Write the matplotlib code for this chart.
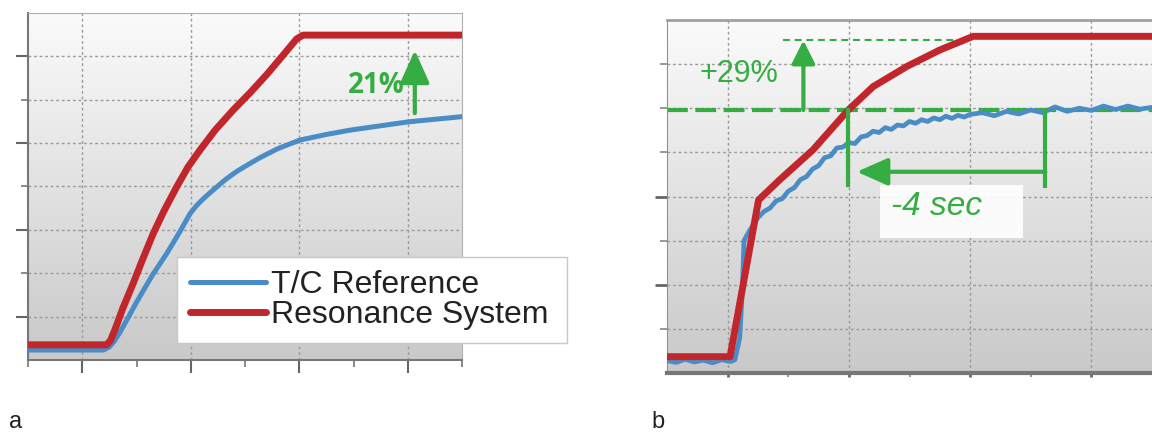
import matplotlib.pyplot as plt
import numpy as np
from matplotlib.colors import LinearSegmentedColormap
from matplotlib.patches import Rectangle

# ---- data (arbitrary units: x 0..8, y 0..8) ----
# panel a
a_tc_x = [0.0, 1.0, 1.39, 1.5, 1.6, 1.7, 1.82, 2.0, 2.13, 2.3, 2.56, 2.8, 2.99, 3.1, 3.2, 3.35, 3.48,
          3.65, 3.85, 4.09, 4.3, 4.6, 5.01, 5.5, 5.94, 6.5, 7.01, 7.5, 8.0]
a_tc_y = [0.23, 0.23, 0.23, 0.3, 0.45, 0.65, 0.92, 1.33, 1.61, 1.97, 2.46, 2.96, 3.38, 3.55, 3.68, 3.85,
          3.99, 4.17, 4.35, 4.53, 4.68, 4.87, 5.07, 5.2, 5.30, 5.40, 5.49, 5.55, 5.61]
a_rs_x = [0.0, 1.0, 1.45, 1.52, 1.6, 1.75, 1.94, 2.1, 2.31, 2.5, 2.74, 2.95, 3.17, 3.45, 3.78, 4.1,
          4.4, 4.65, 4.83, 4.95, 5.07, 8.0]
a_rs_y = [0.35, 0.35, 0.35, 0.45, 0.69, 1.2, 1.77, 2.28, 2.92, 3.42, 3.99, 4.45, 4.84, 5.3, 5.76, 6.17,
          6.58, 6.95, 7.22, 7.4, 7.49, 7.49]

# panel b
b_tc_x = [0.0, 0.15, 0.3, 0.45, 0.6, 0.75, 0.9, 1.05, 1.12, 1.2, 1.24, 1.27, 1.35, 1.42, 1.5, 1.6, 1.7,
          1.8, 1.9, 2.0, 2.1, 2.2, 2.3, 2.4, 2.5, 2.6, 2.7, 2.8, 2.9, 3.0, 3.1, 3.2, 3.3, 3.4, 3.5,
          3.6, 3.7, 3.8, 3.9, 4.0, 4.1, 4.2, 4.3, 4.4, 4.5, 4.6, 4.7, 4.8, 4.9, 5.0, 5.2, 5.4, 5.6,
          5.8, 6.0, 6.2, 6.4, 6.6, 6.8, 7.0, 7.2, 7.4, 7.6, 7.8, 8.0]
b_tc_y = [0.28, 0.24, 0.31, 0.25, 0.29, 0.23, 0.3, 0.26, 0.3, 0.8, 1.8, 3.0, 3.2, 3.35, 3.52, 3.66, 3.74,
          3.9, 3.95, 4.12, 4.2, 4.38, 4.45, 4.62, 4.7, 4.88, 4.92, 5.1, 5.12, 5.22, 5.2, 5.35, 5.38, 5.48, 5.45,
          5.56, 5.52, 5.62, 5.6, 5.7, 5.66, 5.74, 5.7, 5.78, 5.74, 5.82, 5.77, 5.84, 5.8, 5.86, 5.9, 5.83, 5.93,
          5.87, 5.96, 5.9, 6.03, 5.93, 6.0, 5.95, 6.05, 5.97, 6.05, 5.98, 6.02]
b_rs_x = [0.0, 1.04, 1.51, 1.86, 2.41, 2.99, 3.40, 3.96, 4.50, 5.05, 8.0]
b_rs_y = [0.37, 0.37, 3.92, 4.38, 5.06, 5.96, 6.49, 6.95, 7.32, 7.63, 7.63]

labels = ['T/C Reference', 'Resonance System']
gain_a = '21%'
gain_b = '+29%'
time_b = '-4 sec'

BLUE = '#4a8cc6'
RED = '#c0262c'
GREEN = '#36ad42'

W, H = 1152, 433
fig = plt.figure(figsize=(W / 100, H / 100), dpi=100)
bg = LinearSegmentedColormap.from_list('bg', ['#c9c9c9', '#fbfbfb'])
grad = np.linspace(0, 1, 256).reshape(-1, 1)


def setup(ax):
    ax.set_xlim(0, 8)
    ax.set_ylim(0, 8)
    ax.imshow(grad, extent=[0, 8, 0, 8], origin='lower', aspect='auto', cmap=bg, zorder=0)
    ax.set_axisbelow(True)
    ax.tick_params(labelbottom=False, labelleft=False)
    ax.grid(True, which='both', color='#9a9a9a', lw=1.0, ls=(0, (2, 2)))
    ax.grid(False, which='minor', axis='x')
    ax.yaxis.grid(True, which='minor', color='#9a9a9a', lw=1.0, ls=(0, (2, 2)))


# ---------------- panel a ----------------
axa = fig.add_axes([28 / W, (H - 360) / H, 434 / W, 347 / H])
setup(axa)
axa.set_xticks([1, 3, 5, 7])
axa.set_xticks([0, 2, 4, 6, 8], minor=True)
axa.set_yticks([1, 3, 5, 7])
axa.set_yticks([2, 4, 6], minor=True)
axa.tick_params(which='major', length=9, width=1.5, color='#666666')
axa.tick_params(which='minor', length=5, width=1.2, color='#777777')
for s in ['top', 'right']:
    axa.spines[s].set_color('#b0b0b0')
for s in ['left', 'bottom']:
    axa.spines[s].set_color('#777777')
    axa.spines[s].set_linewidth(1.5)

axa.plot(a_tc_x, a_tc_y, color=BLUE, lw=3.6, solid_capstyle='round', solid_joinstyle='round',
         zorder=3, label=labels[0])
axa.plot(a_rs_x, a_rs_y, color=RED, lw=5, solid_capstyle='round', solid_joinstyle='round',
         zorder=4, label=labels[1])

axa.annotate('', xy=(7.13, 7.14), xytext=(7.13, 5.69),
             arrowprops=dict(arrowstyle='-|>,head_length=1.0,head_width=0.45', color=GREEN,
                             lw=3, mutation_scale=20, shrinkA=0, shrinkB=0), zorder=6)
axa.text(6.42, 6.32, gain_a, color=GREEN, fontsize=20, fontweight='bold', family='Open Sans',
         ha='center', va='center', zorder=6)

leg = axa.legend(loc='center left', bbox_to_anchor=(177 / W, (H - 346) / H, 390 / W, 92 / H),
                 bbox_transform=fig.transFigure, mode='expand', fancybox=False, framealpha=1,
                 edgecolor='#c8c8c8', prop={'family': 'Liberation Sans', 'size': 23},
                 handlelength=2.4, handletextpad=0.15, labelspacing=0.02, borderpad=0.4,
                 borderaxespad=0)
for t in leg.get_texts():
    t.set_color('#222222')

# ---------------- panel b ----------------
axb = fig.add_axes([667 / W, (H - 373) / H, (W - 667) / W, 353 / H])
setup(axb)
axb.set_xticks([1, 3, 5, 7])
axb.set_xticks([2, 4, 6], minor=True)
axb.set_yticks([2, 4])
axb.set_yticks([1, 3, 5, 6, 7], minor=True)
axb.tick_params(which='major', length=9, width=2, color='#666666')
axb.tick_params(which='minor', length=5, width=1.2, color='#888888')
axb.tick_params(axis='x', which='both', length=3)
axb.spines['right'].set_visible(False)
axb.spines['top'].set_color('#a0a0a0')
axb.spines['top'].set_linewidth(2)
axb.spines['left'].set_color('#909090')
axb.spines['bottom'].set_color('#777777')
axb.spines['bottom'].set_linewidth(3)

axb.plot(b_tc_x, b_tc_y, color=BLUE, lw=3.4, zorder=3)
axb.plot(b_rs_x, b_rs_y, color=RED, lw=5, solid_capstyle='round', solid_joinstyle='round', zorder=4)

# reference level and +29% gain
axb.axhline(5.96, color=GREEN, lw=3, ls=(0, (5, 1.8)), zorder=2)
axb.plot([1.92, 4.72], [7.54, 7.54], color=GREEN, lw=1.5, ls=(0, (3.3, 2.3)), zorder=2)
axb.annotate('', xy=(2.25, 7.54), xytext=(2.25, 5.96),
             arrowprops=dict(arrowstyle='-|>,head_length=0.7,head_width=0.35', color=GREEN,
                             lw=3, mutation_scale=20, shrinkA=0, shrinkB=0), zorder=6)
axb.text(1.19, 6.78, gain_b, color=GREEN, fontsize=22, family='Liberation Sans',
         ha='center', va='center', zorder=6)

# -4 sec
axb.plot([2.99, 2.99], [5.96, 4.26], color=GREEN, lw=3, zorder=5)
axb.plot([6.24, 6.24], [5.96, 4.24], color=GREEN, lw=3, zorder=5)
axb.annotate('', xy=(3.13, 4.56), xytext=(6.24, 4.56),
             arrowprops=dict(arrowstyle='-|>,head_length=0.95,head_width=0.42', color=GREEN,
                             lw=3, mutation_scale=20, shrinkA=0, shrinkB=0), zorder=6)
axb.add_patch(Rectangle((3.51, 3.06), 2.36, 1.2, fc='white', ec='none', alpha=0.9, zorder=5))
axb.text(4.45, 3.78, time_b, color=GREEN, fontsize=24, style='italic', family='Liberation Sans',
         ha='center', va='center', zorder=6)

# panel letters
fig.text(9 / W, 1 - 428 / H, 'a', fontsize=17, family='Liberation Sans', color='#222222', va='baseline')
fig.text(651 / W, 1 - 428 / H, 'b', fontsize=17, family='Liberation Sans', color='#222222', va='baseline')

fig.savefig('out.png', dpi=100)
